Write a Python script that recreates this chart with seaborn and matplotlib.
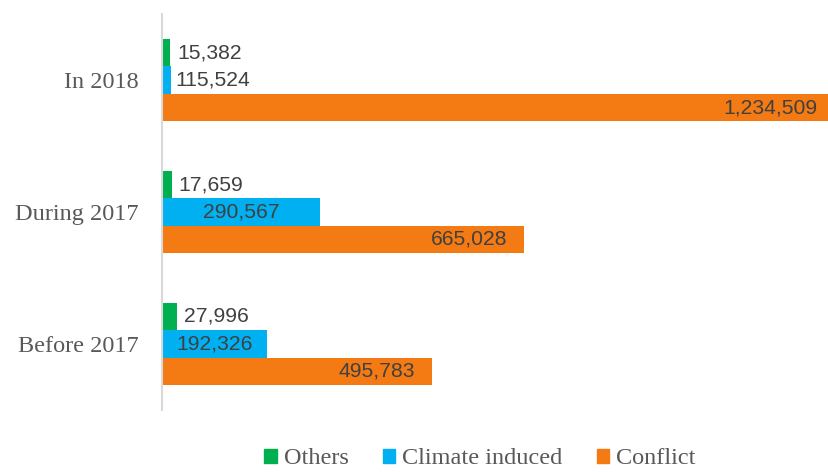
import pandas as pd
import matplotlib.pyplot as plt
import seaborn as sns

periods = ["In 2018", "During 2017", "Before 2017"]
causes = ["Others", "Climate induced", "Conflict"]
others = [15382, 17659, 27996]
# the 2018 climate bar is drawn much shorter than its label says
climate = [16000, 290567, 192326]
climate_labels = ["115,524", "290,567", "192,326"]
conflict = [1234509, 665028, 495783]
colors = ["#00B050", "#00B0F0", "#F47A13"]

df = pd.DataFrame({
    "period": periods * 3,
    "cause": [c for c in causes for _ in periods],
    "value": others + climate + conflict,
})

sns.set_style("white")
plt.rcParams["font.family"] = ["Liberation Serif", "DejaVu Serif"]

fig = plt.figure(figsize=(8.29, 4.72), dpi=100)
ax = fig.add_axes([0.1954, 0.1314, 0.8046, 0.8389])

sns.barplot(data=df, x="value", y="period", hue="cause", order=periods,
            hue_order=causes, palette=colors, orient="h", width=0.625,
            linewidth=0, saturation=1, ax=ax, legend=False)

xmax = 1225000
ax.set_xlim(0, xmax)
ax.set_ylim(2.5, -0.5)
ax.set_xlabel("")
ax.set_ylabel("")
ax.set_xticks([])
for s in ["top", "right", "bottom"]:
    ax.spines[s].set_visible(False)
ax.spines["left"].set_color("#D9D9D9")
ax.spines["left"].set_linewidth(1.5)
ax.tick_params(axis="y", length=0, pad=17, labelsize=17.5, labelcolor="#595959")

lab = dict(fontsize=15.2, color="#404040", family="Liberation Sans", va="center")
# Others: outside end
for bar in ax.containers[0]:
    v = bar.get_width()
    ax.annotate(f"{int(v):,}", (v, bar.get_y() + bar.get_height() / 2),
                xytext=(5, 0), textcoords="offset points", ha="left", **lab)
# Climate induced: outside if short, else centered
for bar, txt in zip(ax.containers[1], climate_labels):
    v = bar.get_width()
    y = bar.get_y() + bar.get_height() / 2
    if v < 150000:
        ax.annotate(txt, (v, y), xytext=(3.5, 0),
                    textcoords="offset points", ha="left", **lab)
    else:
        ax.annotate(txt, (v / 2, y), ha="center", **lab)
# Conflict: inside end
for bar in ax.containers[2]:
    v = bar.get_width()
    y = bar.get_y() + bar.get_height() / 2
    pad = -8.5 if v > xmax else -12
    ax.annotate(f"{int(v):,}", (min(v, xmax), y), xytext=(pad, 0),
                textcoords="offset points", ha="right", **lab)

handles = [plt.Rectangle((0, 0), 1, 1, color=c) for c in colors]
leg = fig.legend(handles, causes, loc="center", bbox_to_anchor=(480 / 829, 1 - 459 / 472),
                 ncol=3, frameon=False, fontsize=17.5, handlelength=0.5,
                 handleheight=0.5, handletextpad=0.3, columnspacing=1.4,
                 borderpad=0.1)
for t in leg.get_texts():
    t.set_color("#595959")

fig.savefig("out.png", dpi=100)
